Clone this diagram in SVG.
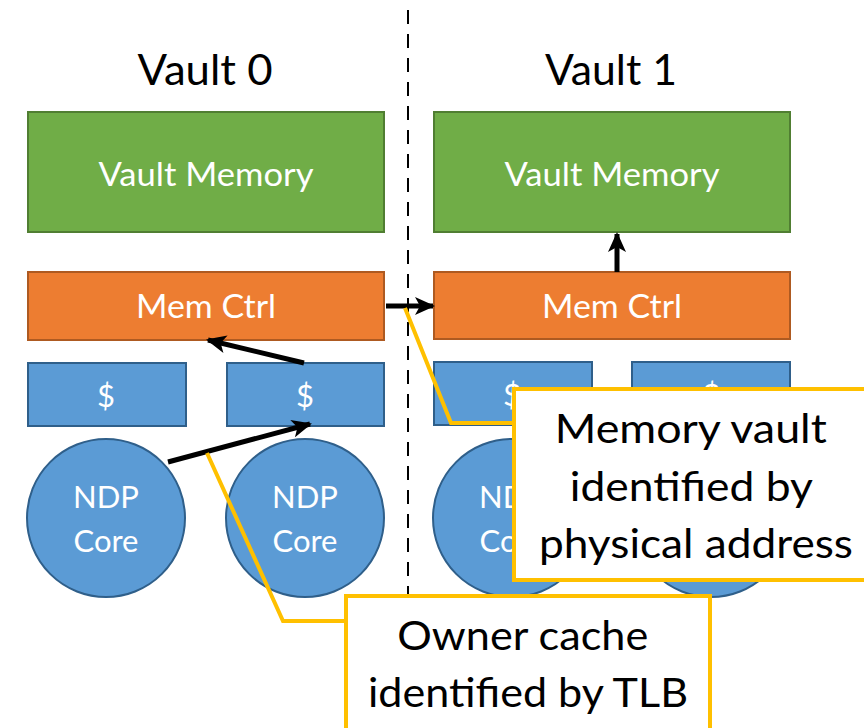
<svg xmlns="http://www.w3.org/2000/svg" width="864" height="728" viewBox="0 0 864 728">
  <style>
    .mem { fill: #70AD47; stroke: #507E32; stroke-width: 2; }
    .ctrl { fill: #ED7D31; stroke: #AE5A21; stroke-width: 2; }
    .blue { fill: #5B9BD5; stroke: #2F5F8A; stroke-width: 2; }
    .wt { font-family: Lato, "Open Sans", sans-serif; fill: #FFFFFF; text-anchor: middle; }
    .bt { font-family: Lato, "Open Sans", sans-serif; fill: #000000; text-anchor: middle; }
    .arrow { stroke: #000; stroke-width: 5; fill: none; marker-end: url(#head); }
    .call { stroke: #FFC000; stroke-width: 4; fill: none; }
    .callbox { stroke: #FFC000; stroke-width: 4; fill: #FFFFFF; }
  </style>
  <defs>
    <marker id="head" viewBox="0 0 20 18" refX="18" refY="9" markerWidth="20" markerHeight="18" markerUnits="userSpaceOnUse" orient="auto">
      <path d="M0,0 L20,9 L0,18 L5,9 Z" fill="#000"/>
    </marker>
  </defs>

  <!-- vault divider -->
  <line x1="408" y1="10" x2="408" y2="600" stroke="#000" stroke-width="2" stroke-dasharray="14,10"/>

  <text class="bt" x="205" y="85" font-size="42" textLength="135" lengthAdjust="spacingAndGlyphs">Vault 0</text>
  <text class="bt" x="611" y="85" font-size="42" textLength="132" lengthAdjust="spacingAndGlyphs">Vault 1</text>

  <g id="vault0-memory">
    <rect class="mem" x="28" y="112" width="356" height="120"/>
    <text class="wt" x="206" y="186" font-size="32" textLength="215" lengthAdjust="spacingAndGlyphs">Vault Memory</text>
  </g>
  <g id="vault1-memory">
    <rect class="mem" x="434" y="112" width="356" height="120"/>
    <text class="wt" x="612" y="186" font-size="32" textLength="215" lengthAdjust="spacingAndGlyphs">Vault Memory</text>
  </g>

  <g id="vault0-memctrl">
    <rect class="ctrl" x="28" y="272" width="356" height="68"/>
    <text class="wt" x="206" y="318" font-size="32" textLength="140" lengthAdjust="spacingAndGlyphs">Mem Ctrl</text>
  </g>
  <g id="vault1-memctrl">
    <rect class="ctrl" x="434" y="272" width="356" height="67"/>
    <text class="wt" x="612" y="318" font-size="32" textLength="140" lengthAdjust="spacingAndGlyphs">Mem Ctrl</text>
  </g>

  <g id="cache-0a">
    <rect class="blue" x="28" y="363" width="158" height="63"/>
    <text class="wt" x="106" y="407" font-size="31">$</text>
  </g>
  <g id="cache-0b">
    <rect class="blue" x="227" y="363" width="157" height="63"/>
    <text class="wt" x="305" y="407" font-size="31">$</text>
  </g>
  <g id="cache-1a">
    <rect class="blue" x="434" y="362" width="158" height="63"/>
    <text class="wt" x="512" y="406" font-size="31">$</text>
  </g>
  <g id="cache-1b">
    <rect class="blue" x="632" y="362" width="158" height="63"/>
    <text class="wt" x="711" y="406" font-size="31">$</text>
  </g>

  <g id="core-0a">
    <circle class="blue" cx="106" cy="518" r="79"/>
    <text class="wt" font-size="31"><tspan x="106" y="508">NDP</tspan><tspan x="106" y="552">Core</tspan></text>
  </g>
  <g id="core-0b">
    <circle class="blue" cx="305" cy="518" r="79"/>
    <text class="wt" font-size="31"><tspan x="305" y="508">NDP</tspan><tspan x="305" y="552">Core</tspan></text>
  </g>
  <g id="core-1a">
    <circle class="blue" cx="512" cy="518" r="79"/>
    <text class="wt" font-size="31"><tspan x="512" y="508">NDP</tspan><tspan x="512" y="552">Core</tspan></text>
  </g>
  <g id="core-1b">
    <circle class="blue" cx="711" cy="518" r="79"/>
    <text class="wt" font-size="31"><tspan x="711" y="508">NDP</tspan><tspan x="711" y="552">Core</tspan></text>
  </g>

  <g id="connectors">
    <line class="arrow" x1="168" y1="462" x2="310" y2="424"/>
    <line class="arrow" x1="304" y1="363" x2="208" y2="340"/>
    <line class="arrow" x1="386" y1="306" x2="433" y2="306"/>
    <line class="arrow" x1="617" y1="272" x2="617" y2="234"/>
  </g>

  <g id="callout-vault">
    <polyline class="call" points="405,308 451,423 514,423"/>
    <rect class="callbox" x="514" y="389" width="360" height="191"/>
    <text class="bt" font-size="41">
      <tspan x="696" y="443" textLength="272" lengthAdjust="spacingAndGlyphs">Memory vault</tspan>
      <tspan x="696" y="501" textLength="242" lengthAdjust="spacingAndGlyphs">identified by</tspan>
      <tspan x="696" y="558" textLength="314" lengthAdjust="spacingAndGlyphs">physical address</tspan>
    </text>
  </g>

  <g id="callout-owner">
    <polyline class="call" points="207,453 283,621 346,621"/>
    <rect class="callbox" x="346" y="596" width="364" height="150"/>
    <text class="bt" font-size="41">
      <tspan x="528" y="650" textLength="251" lengthAdjust="spacingAndGlyphs">Owner cache</tspan>
      <tspan x="528" y="707" textLength="320" lengthAdjust="spacingAndGlyphs">identified by TLB</tspan>
    </text>
  </g>
</svg>
